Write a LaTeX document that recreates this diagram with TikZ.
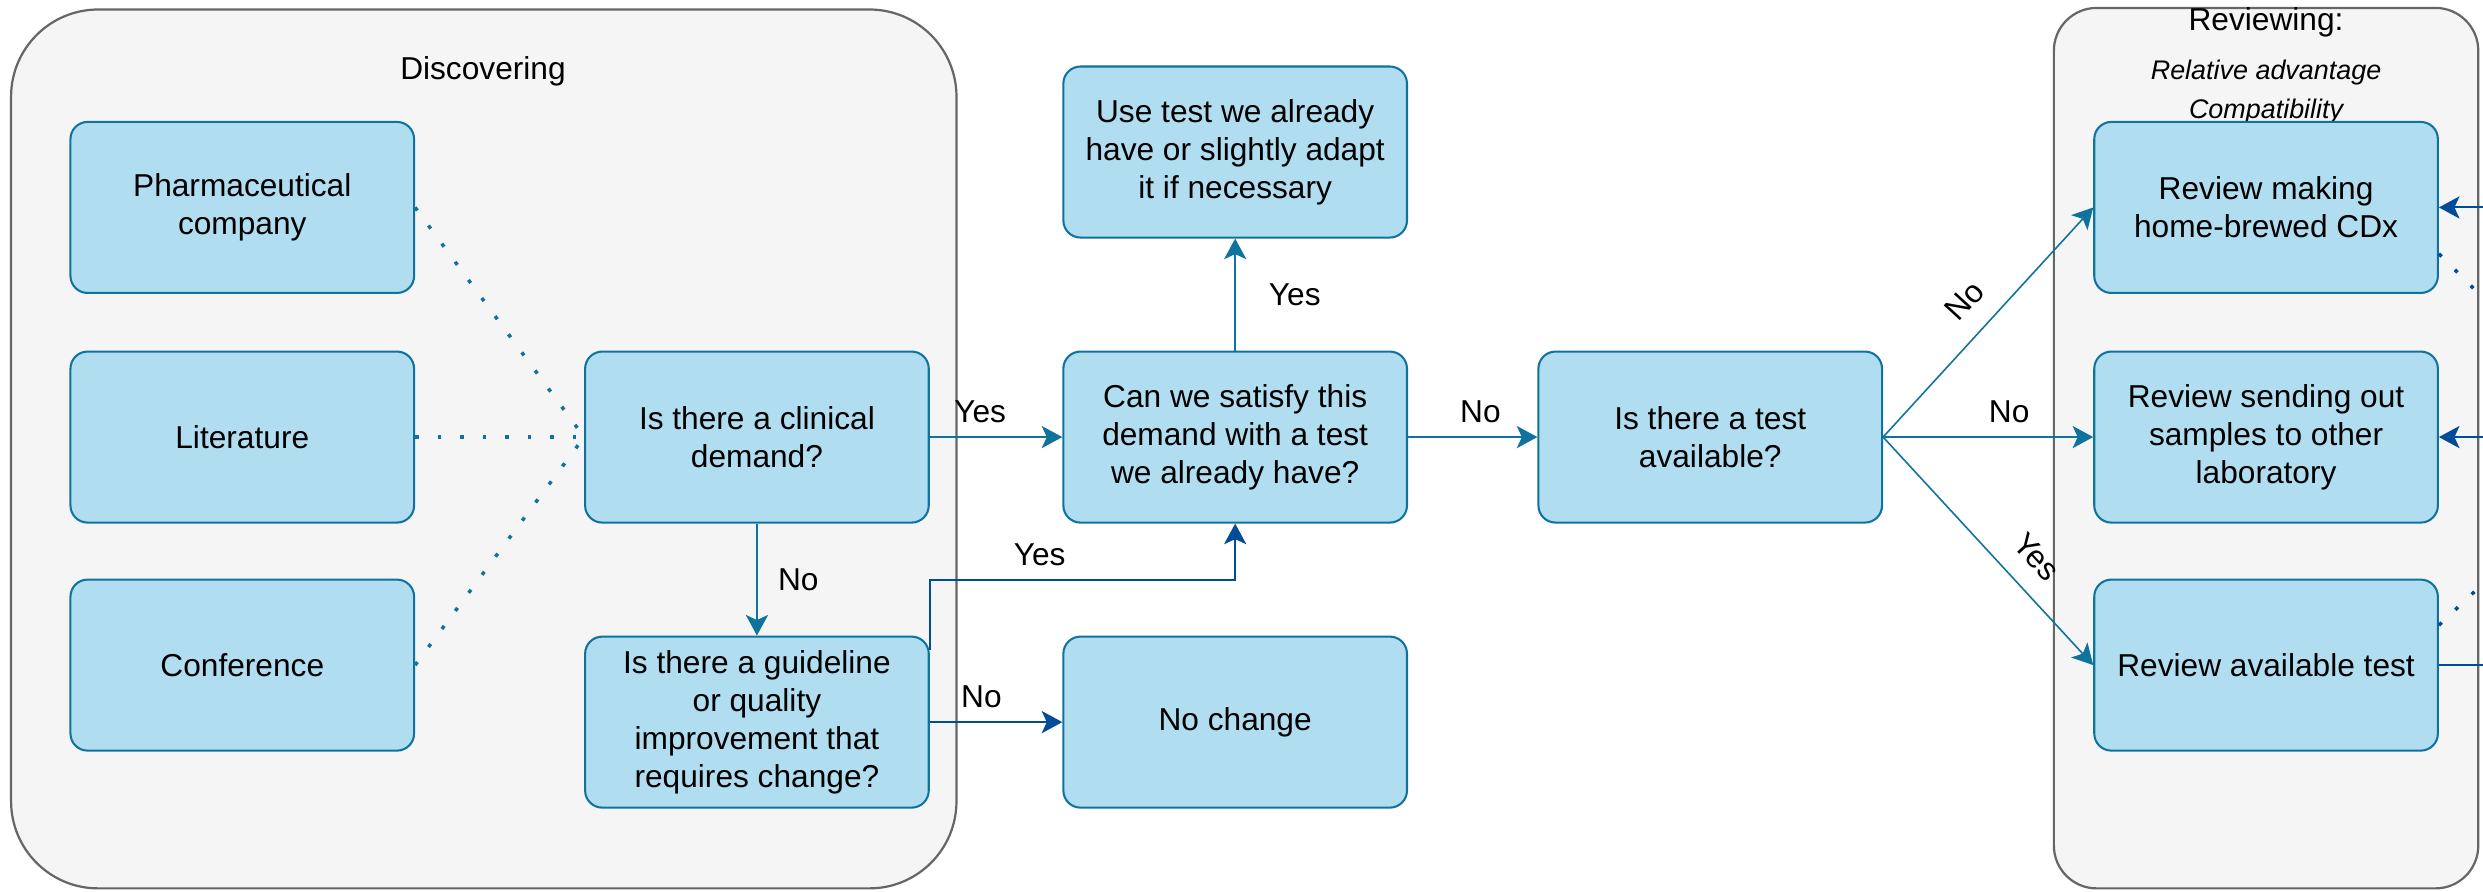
\documentclass[tikz,border=0pt]{standalone}
\usepackage{fontspec}
\setmainfont{Liberation Sans}
\usetikzlibrary{arrows.meta}
\definecolor{boxfill}{HTML}{B1DDF0}
\definecolor{boxline}{HTML}{10739E}
\definecolor{darkline}{HTML}{004C99}
\definecolor{groupfill}{HTML}{F5F5F5}
\definecolor{groupline}{HTML}{666666}
\begin{document}
\begin{tikzpicture}[x=0.5pt,y=-0.5pt,
        font=\fontsize{10}{12}\selectfont,
        >={Stealth[length=6.5pt,width=7pt,inset=1.6pt]},
        box/.style={draw=boxline,fill=boxfill,line width=0.65pt,rounded corners=5.4pt,
            minimum width=108.5pt,minimum height=54pt,align=center,inner sep=1pt},
        group/.style={draw=groupline,fill=groupfill,line width=0.7pt},
        flow/.style={draw=boxline,line width=0.65pt},
        darkflow/.style={draw=darkline,line width=0.65pt},
        dotline/.style={draw=boxline,line width=1.1pt,dash pattern=on 1.2pt off 5.9pt}]
        \useasboundingbox (0,0) rectangle (1568,563);
        \clip (0,0) rectangle (1568,563);
        \fill[white] (0,0) rectangle (1568,563);
        \path[group,rounded corners=27.5pt] (7,6) rectangle (604,561);
        \path[group,rounded corners=13.5pt] (1297,5) rectangle (1565,561);
        \node at(305, 45) (disc) {Discovering};
        \node at(1431, 14) (revt) {Reviewing:};
        \node[align=center,font=\fontsize{8.5}{12.5}\selectfont\itshape] at(1431, 58) (revs) {Relative advantage\\Compatibility};

        \node[box] at(153, 131) (pharma) {Pharmaceutical\\company};
        \node[box] at(153, 276) (lit) {Literature};
        \node[box] at(153, 420) (conf) {Conference};
        \node[box] at(478, 276) (clin) {Is there a clinical\\demand?};
        \node[box] at(478, 456) (guide) {Is there a guideline\\or quality\\improvement that\\requires change?};
        \node[box] at(780, 96) (usetest) {Use test we already\\have or slightly adapt\\it if necessary};
        \node[box] at(780, 276) (satisfy) {Can we satisfy this\\demand with a test\\we already have?};
        \node[box] at(780, 456) (nochange) {No change};
        \node[box] at(1080, 276) (avail) {Is there a test\\available?};
        \node[box] at(1431, 131) (rv1) {Review making\\home-brewed CDx};
        \node[box] at(1431, 276) (rv2) {Review sending out\\samples to other\\laboratory};
        \node[box] at(1431, 420) (rv3) {Review available test};
        \coordinate (in1) at(1600, 131);
        \coordinate (in2) at(1600, 276);
        \coordinate (out3) at(1600, 420);
        \coordinate (dot1) at(1630, 250);
        \coordinate (dot3) at(1630, 310);

        \draw[dotline] (pharma.east) -- (clin.west);
        \draw[dotline] (lit.east) -- (clin.west);
        \draw[dotline] (conf.east) -- (clin.west);
        \draw[->,flow] (clin) -- node[pos=0.38,above=1pt] {Yes} (satisfy);
        \draw[->,flow] (clin) -- node[right=3pt] {No} (guide);
        \draw[->,flow] (satisfy) -- node[right=7pt] {Yes} (usetest);
        \draw[->,darkflow] ([yshift=-4.5pt]guide.north east) -- ++(0,-44) -| node[pos=0.18,above=1pt] {Yes} (satisfy.south);
        \draw[->,darkflow] (guide) -- node[pos=0.39,above=1pt] {No} (nochange);
        \draw[->,flow] (satisfy) -- node[pos=0.56,above=1pt] {No} (avail);
        \draw[->,flow,line width=0.5pt] (avail.east) -- node[pos=0.5,above=3pt,sloped] {No} (rv1.west);
        \draw[->,flow] (avail.east) -- node[pos=0.6,above=1pt] {No} (rv2.west);
        \draw[->,flow,line width=0.5pt] (avail.east) -- node[pos=0.62,above=3pt,sloped] {Yes} (rv3.west);
        \draw[->,darkflow] (in1) -- (rv1.east);
        \draw[->,darkflow] (in2) -- (rv2.east);
        \draw[darkflow] (rv3.east) -- (out3);
        \draw[dotline,draw=darkline] (rv1.-15) -- (dot1);
        \draw[dotline,draw=darkline] (rv3.13) -- (dot3);
    \end{tikzpicture}
\end{document}
